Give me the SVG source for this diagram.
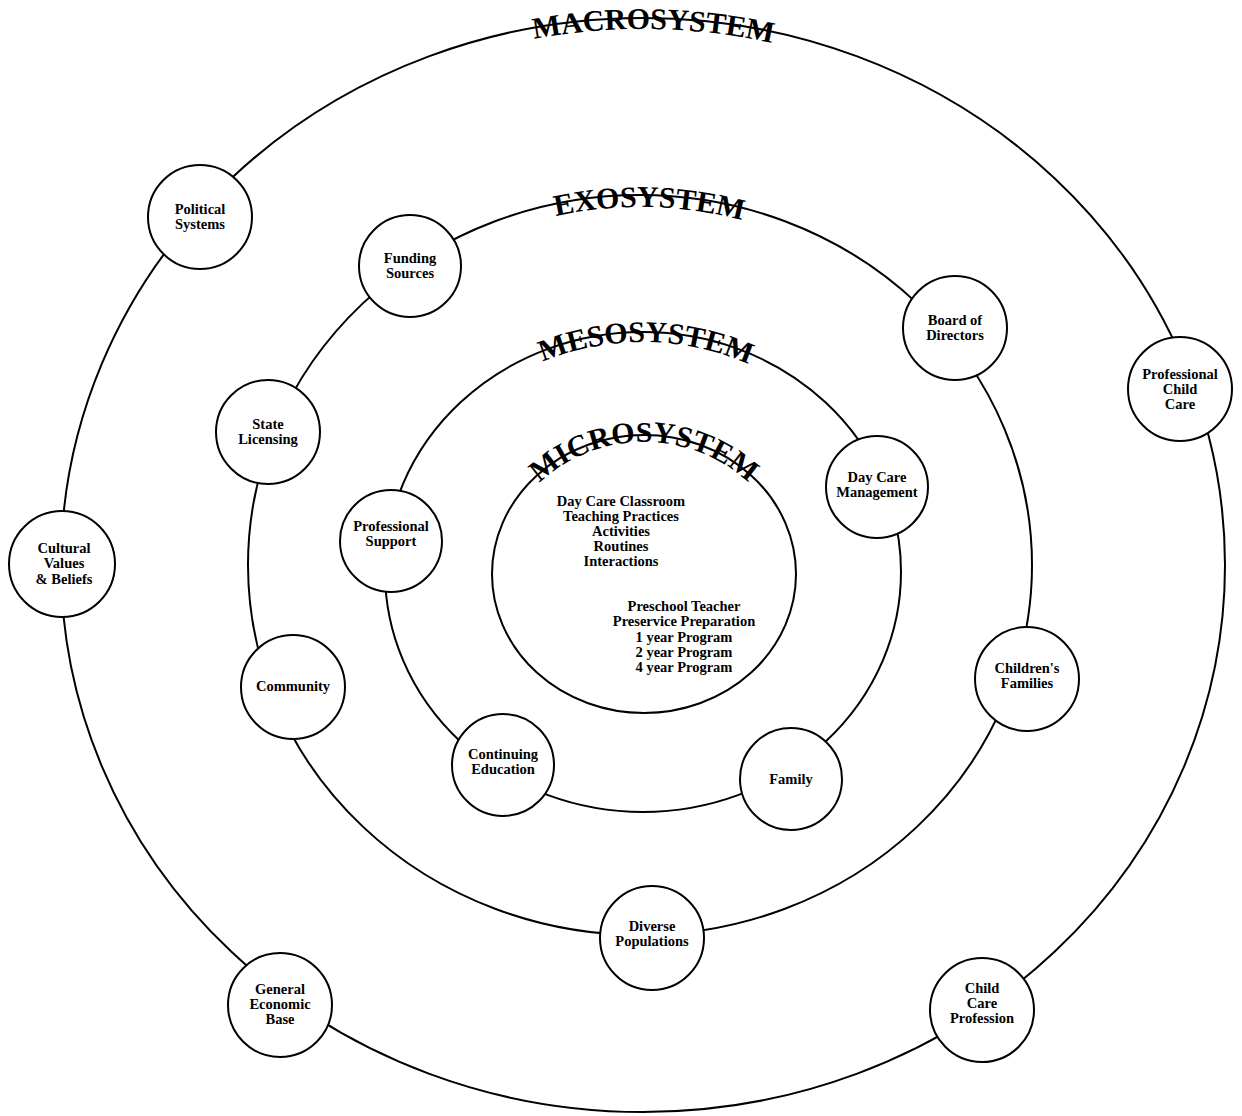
<svg xmlns="http://www.w3.org/2000/svg" width="1242" height="1116" viewBox="0 0 1242 1116">
<style>
.ring{fill:none;stroke:#000;stroke-width:2}
.node circle{fill:#fff;stroke:#000;stroke-width:2}
.node text,.body{font-family:"Liberation Serif","Times New Roman",serif;font-weight:bold;font-size:14.5px;text-anchor:middle;fill:#000}
.title{font-family:"Liberation Serif","Times New Roman",serif;font-weight:bold;font-size:30px;fill:#000;text-anchor:middle}
</style>
<defs>
<path id="pMacro" d="M 77 565 A 566 536 0 0 1 1209 565"/>
<path id="pExo" d="M 262 565 A 378 358 0 0 1 1018 565"/>
<path id="pMeso" d="M 397 572 A 246 230 0 0 1 889 572"/>
<path id="pMicro" d="M 500 574 A 144 132 0 0 1 788 574"/>
</defs>
<rect width="1242" height="1116" fill="#fff"/>
<g id="connectors">
<ellipse class="ring" cx="643" cy="565" rx="582" ry="547"/>
<ellipse class="ring" cx="640" cy="565" rx="392" ry="370"/>
<ellipse class="ring" cx="643" cy="572" rx="258" ry="240"/>
<ellipse class="ring" cx="644" cy="574" rx="152" ry="139"/>
</g>
<g id="labels">
<text class="title"><textPath href="#pMacro" startOffset="50.6%">MACROSYSTEM</textPath></text>
<text class="title"><textPath href="#pExo" startOffset="50.8%">EXOSYSTEM</textPath></text>
<text class="title"><textPath href="#pMeso" startOffset="50.4%">MESOSYSTEM</textPath></text>
<text class="title"><textPath href="#pMicro" startOffset="50%">MICROSYSTEM</textPath></text>
</g>
<g id="microsystem-text">
<text class="body" x="621" y="506">Day Care Classroom</text>
<text class="body" x="621" y="521">Teaching Practices</text>
<text class="body" x="621" y="536">Activities</text>
<text class="body" x="621" y="551">Routines</text>
<text class="body" x="621" y="566">Interactions</text>
<text class="body" x="684" y="611">Preschool Teacher</text>
<text class="body" x="684" y="626">Preservice Preparation</text>
<text class="body" x="684" y="642">1 year Program</text>
<text class="body" x="684" y="657">2 year Program</text>
<text class="body" x="684" y="672">4 year Program</text>
</g>
<g id="political-systems" class="node"><circle cx="200" cy="217" r="52"/><text x="200" y="214">Political</text><text x="200" y="229">Systems</text></g>
<g id="funding-sources" class="node"><circle cx="410" cy="266" r="51"/><text x="410" y="263">Funding</text><text x="410" y="278">Sources</text></g>
<g id="board-of-directors" class="node"><circle cx="955" cy="328" r="52"/><text x="955" y="325">Board of</text><text x="955" y="340">Directors</text></g>
<g id="professional-child-care" class="node"><circle cx="1180" cy="389" r="52"/><text x="1180" y="379">Professional</text><text x="1180" y="394">Child</text><text x="1180" y="409">Care</text></g>
<g id="state-licensing" class="node"><circle cx="268" cy="432" r="52"/><text x="268" y="429">State</text><text x="268" y="444">Licensing</text></g>
<g id="day-care-management" class="node"><circle cx="877" cy="487" r="51"/><text x="877" y="482">Day Care</text><text x="877" y="497">Management</text></g>
<g id="professional-support" class="node"><circle cx="391" cy="541" r="51"/><text x="391" y="531">Professional</text><text x="391" y="546">Support</text></g>
<g id="cultural-values" class="node"><circle cx="62" cy="564" r="53"/><text x="64" y="553">Cultural</text><text x="64" y="568">Values</text><text x="64" y="584">&amp; Beliefs</text></g>
<g id="community" class="node"><circle cx="293" cy="687" r="52"/><text x="293" y="691">Community</text></g>
<g id="childrens-families" class="node"><circle cx="1027" cy="679" r="52"/><text x="1027" y="673">Children's</text><text x="1027" y="688">Families</text></g>
<g id="continuing-education" class="node"><circle cx="503" cy="765" r="51"/><text x="503" y="759">Continuing</text><text x="503" y="774">Education</text></g>
<g id="family" class="node"><circle cx="791" cy="779" r="51"/><text x="791" y="784">Family</text></g>
<g id="diverse-populations" class="node"><circle cx="652" cy="938" r="52"/><text x="652" y="931">Diverse</text><text x="652" y="946">Populations</text></g>
<g id="general-economic-base" class="node"><circle cx="280" cy="1005" r="52"/><text x="280" y="994">General</text><text x="280" y="1009">Economic</text><text x="280" y="1024">Base</text></g>
<g id="child-care-profession" class="node"><circle cx="982" cy="1010" r="52"/><text x="982" y="993">Child</text><text x="982" y="1008">Care</text><text x="982" y="1023">Profession</text></g>
</svg>
